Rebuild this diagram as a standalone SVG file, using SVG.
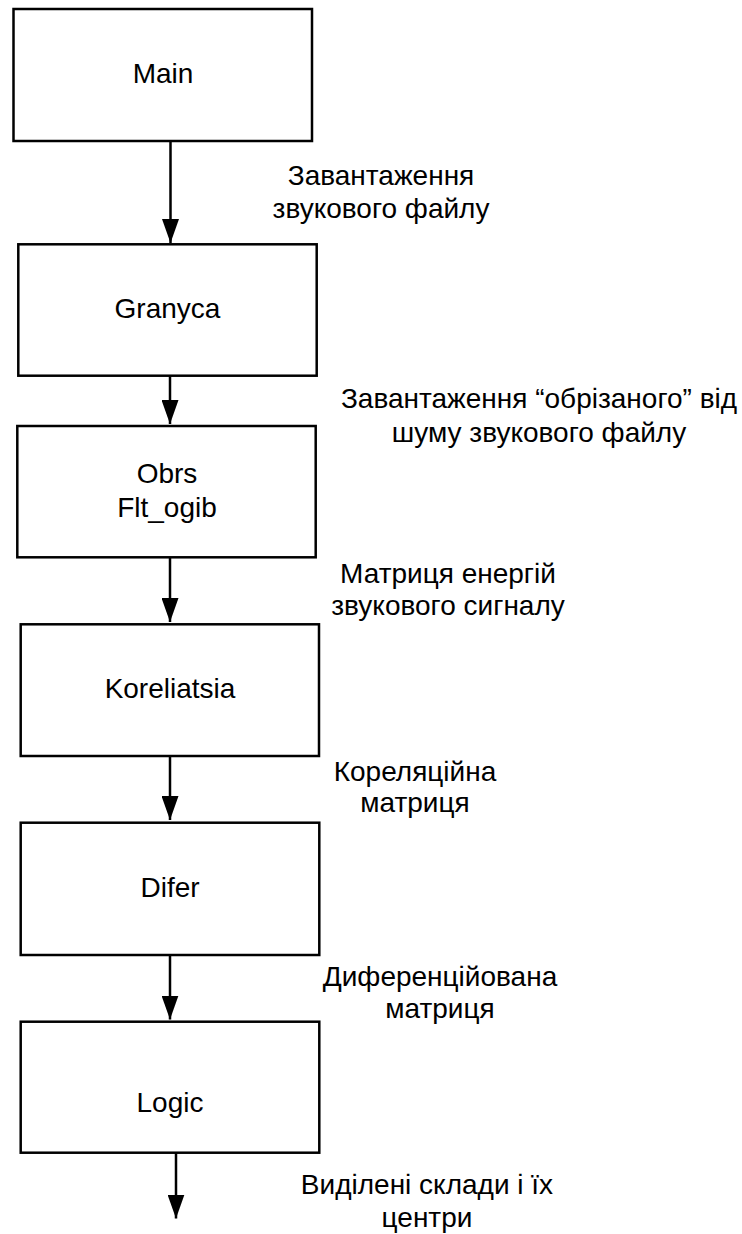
<svg xmlns="http://www.w3.org/2000/svg" width="742" height="1234" viewBox="0 0 742 1234">
<style>
.box{fill:#fff;stroke:#000;stroke-width:2.5}
.t{font-family:"Liberation Sans",Arial,sans-serif;font-size:28px;fill:#000;text-anchor:middle}
.c{stroke:#000;stroke-width:2.5;fill:none}
</style>
<defs>
<marker id="ah" markerUnits="userSpaceOnUse" markerWidth="24" markerHeight="17" refX="24" refY="8.5" orient="auto" viewBox="0 0 24 17">
<path d="M0,0 L24,8.5 L0,17 Z" fill="#000"/>
</marker>
</defs>
<rect width="742" height="1234" fill="#fff"/>
<g id="connectors">
<line class="c" x1="170.5" y1="141" x2="170.5" y2="243" marker-end="url(#ah)"/>
<line class="c" x1="170" y1="376" x2="170" y2="424" marker-end="url(#ah)"/>
<line class="c" x1="170" y1="557" x2="170" y2="622" marker-end="url(#ah)"/>
<line class="c" x1="170" y1="756" x2="170" y2="820" marker-end="url(#ah)"/>
<line class="c" x1="170" y1="955" x2="170" y2="1019.5" marker-end="url(#ah)"/>
<line class="c" x1="176" y1="1153" x2="176" y2="1218.5" marker-end="url(#ah)"/>
<text class="t" x="381" y="185">Завантаження</text>
<text class="t" x="381" y="218">звукового файлу</text>
<text class="t" x="539" y="408">Завантаження “обрізаного” від</text>
<text class="t" x="539" y="441.5">шуму звукового файлу</text>
<text class="t" x="448" y="583">Матриця енергій</text>
<text class="t" x="448" y="615">звукового сигналу</text>
<text class="t" x="415" y="780.5">Кореляційна</text>
<text class="t" x="415" y="811.5">матриця</text>
<text class="t" x="440" y="986">Диференційована</text>
<text class="t" x="440" y="1018">матриця</text>
<text class="t" x="427" y="1194">Виділені склади і їх</text>
<text class="t" x="427" y="1226.5">центри</text>
</g>
<g id="main"><rect class="box" x="13.5" y="9" width="298.5" height="132"/><text class="t" x="163" y="83">Main</text></g>
<g id="granyca"><rect class="box" x="18.3" y="244.3" width="298.4" height="131.4"/><text class="t" x="167.5" y="318">Granyca</text></g>
<g id="obrs"><rect class="box" x="17.3" y="426" width="298.4" height="131.3"/><text class="t" x="167" y="483">Obrs</text><text class="t" x="167" y="516.5">Flt_ogib</text></g>
<g id="koreliatsia"><rect class="box" x="20.7" y="624.3" width="298.3" height="131.7"/><text class="t" x="170" y="698">Koreliatsia</text></g>
<g id="difer"><rect class="box" x="20.7" y="822.7" width="298.6" height="132.3"/><text class="t" x="170" y="896.5">Difer</text></g>
<g id="logic"><rect class="box" x="20.7" y="1021.7" width="298.6" height="131"/><text class="t" x="170" y="1111.5">Logic</text></g>
</svg>
